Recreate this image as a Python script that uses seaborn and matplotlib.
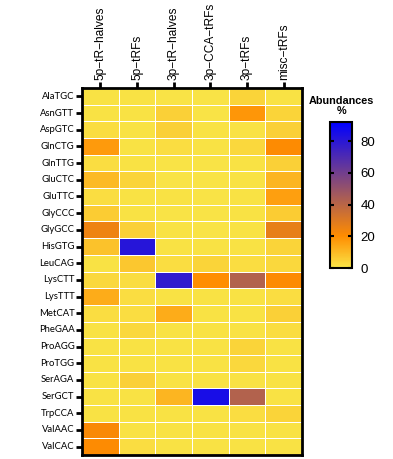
#!/usr/bin/env python3
"""Heatmap of tRNA fragment abundances per isoacceptor."""
import numpy as np
import pandas as pd
import matplotlib
matplotlib.use('Agg')
import matplotlib.pyplot as plt
from matplotlib.colors import LinearSegmentedColormap
import seaborn as sns

# Data
fragment_types = ['5p\u2212tR\u2212halves', '5p\u2212tRFs', '3p\u2212tR\u2212halves',
                  '3p\u2212CCA\u2212tRFs', '3p\u2212tRFs', 'misc\u2212tRFs']
trnas = ['AlaTGC', 'AsnGTT', 'AspGTC', 'GlnCTG', 'GlnTTG', 'GluCTC', 'GluTTC',
         'GlyCCC', 'GlyGCC', 'HisGTG', 'LeuCAG', 'LysCTT', 'LysTTT', 'MetCAT',
         'PheGAA', 'ProAGG', 'ProTGG', 'SerAGA', 'SerGCT', 'TrpCCA', 'ValAAC',
         'ValCAC']

# one list per fragment type, ordered like trnas
p5_halves = [1, 1, 2, 17, 2, 10, 2, 6, 25, 8, 1, 3, 13, 2, 1, 1, 1, 1, 1, 1, 22, 21]
p5_trfs = [1, 1, 1, 1, 1, 4, 1, 1, 5, 81, 7, 2, 2, 2, 3, 1, 1, 5, 1, 1, 1, 2]
p3_halves = [0.5, 5, 5, 2, 0.5, 0.5, 1, 0.5, 1, 1, 2, 78, 1, 13, 1, 1, 1, 1, 11, 1, 1, 1]
p3_cca = [0.5, 0.5, 1, 1, 0.5, 0.5, 0.5, 0.5, 0.5, 1, 4, 20, 1, 1, 1, 1, 1, 1, 85, 1, 1, 1]
p3_trfs = [4, 18, 1, 3, 1, 1, 1, 1, 1, 1, 2, 42, 1, 1, 1, 4, 3, 1, 42, 2, 1, 1]
misc_trfs = [1, 4, 5, 21, 5, 11, 16, 6, 27, 4, 3, 21, 2, 5, 2, 1, 1, 1, 1, 4, 1, 1]

df = pd.DataFrame(
    np.column_stack([p5_halves, p5_trfs, p3_halves, p3_cca, p3_trfs, misc_trfs]),
    index=trnas, columns=fragment_types)

cmap = LinearSegmentedColormap.from_list(
    'abund', [(0.0, '#F9E547'), (0.22, '#FF8C00'), (1.0, '#0000FF')])

fig = plt.figure(figsize=(3.93, 4.59), dpi=100)
ax = fig.add_axes([0.2087, 0.0087, 0.5598, 0.7995])
cax = fig.add_axes([0.840, 0.416, 0.056, 0.318])

sns.heatmap(df, ax=ax, cbar_ax=cax, cmap=cmap, vmin=0, vmax=92,
            linewidths=0.5, linecolor='white')

# heatmap frame and ticks
for sp in ax.spines.values():
    sp.set_visible(True)
    sp.set_linewidth(2)
    sp.set_color('black')
ax.xaxis.tick_top()
ax.set_xticklabels(fragment_types, rotation=90, fontsize=8.6,
                   family='Liberation Sans')
ax.set_yticklabels(trnas, rotation=0, fontsize=6.8, family='Lato')
ax.tick_params(axis='both', length=4, width=2, color='black', pad=1.5)
ax.set_xlabel('')
ax.set_ylabel('')

# colorbar
cbar = ax.collections[0].colorbar
cbar.set_ticks([0, 20, 40, 60, 80])
cbar.outline.set_linewidth(1.5)
cax.tick_params(labelsize=9.5, length=3, width=1.5, direction='in',
                left=True, right=True, pad=6)
for lbl in cax.get_yticklabels():
    lbl.set_family('Liberation Sans')
cax.set_title('Abundances\n%', fontsize=7.8, fontweight='bold',
              family='Liberation Sans', linespacing=1.0, pad=6)

fig.savefig('out.png', dpi=100)
